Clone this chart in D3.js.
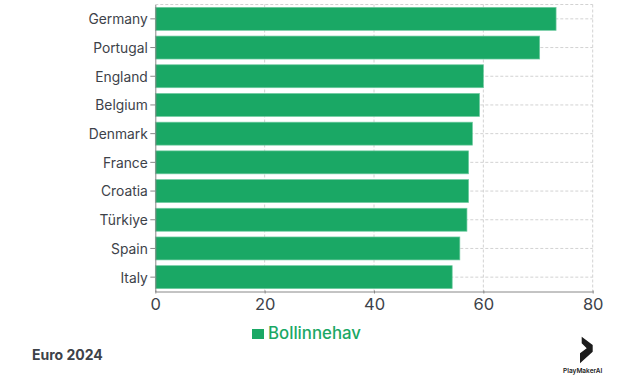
<!DOCTYPE html>
<html><head><meta charset="utf-8">
<script src="https://cdn.jsdelivr.net/npm/d3@7"></script>
<style>html,body{margin:0;padding:0;background:#fff}svg{display:block}text{font-family:Inter,Lato,sans-serif}</style>
</head><body><svg id="c" width="620" height="379"></svg>
<script>
const categories=["Germany","Portugal","England","Belgium","Denmark","France","Croatia","Türkiye","Spain","Italy"];
const values=[73.3,70.3,60,59.3,58,57.3,57.3,57,55.7,54.3];
const xTicks=[0,20,40,60,80];
const seriesName="Bollinnehav";
const footer="Euro 2024";
const brand="PlayMakerAI";
const green="#1aa865", ink="#3d4249";

const svg=d3.select("#c");
const x=d3.scaleLinear().domain([0,80]).range([155.3,592.7]);
const y=d3.scaleBand().domain(categories).range([4.5,291.5]).paddingInner(0.2).paddingOuter(0.1);
const cy=d=>y(d)+y.bandwidth()/2;
const grid="#d2d2d2";
const g=svg.append("g");
g.selectAll("line.v").data(xTicks.slice(1)).join("line").attr("class","v")
 .attr("x1",d=>x(d)).attr("x2",d=>x(d)).attr("y1",4.5).attr("y2",291.5)
 .attr("stroke",grid).attr("stroke-dasharray","3 2");
g.selectAll("line.h").data(categories).join("line").attr("class","h")
 .attr("x1",x(0)).attr("x2",x(80)).attr("y1",cy).attr("y2",cy)
 .attr("stroke",grid).attr("stroke-dasharray","3 2");
g.append("line").attr("x1",x(0)).attr("x2",x(80)).attr("y1",4.5).attr("y2",4.5)
 .attr("stroke",grid).attr("stroke-dasharray","3 2");
g.selectAll("rect").data(categories).join("rect")
 .attr("x",x(0)).attr("y",d=>y(d)).attr("height",y.bandwidth())
 .attr("width",(d,i)=>x(values[i])-x(0))
 .attr("fill",green).attr("stroke","#6fcba0").attr("stroke-width",0.7);

const ax=svg.append("g").attr("transform","translate(0,291.5)")
 .call(d3.axisBottom(x).tickValues(xTicks).tickSize(5).tickSizeOuter(0));
ax.select(".domain").attr("stroke","#888").attr("stroke-width",1);
ax.selectAll("line").attr("stroke","#888").attr("y1",-1).attr("y2",2);
ax.selectAll("text").attr("fill",ink).attr("font-size",16.5).attr("y",7).attr("font-family","Inter,Lato,sans-serif");
const ay=svg.append("g").attr("transform","translate(155.3,0)")
 .call(d3.axisLeft(y).tickSize(5).tickSizeOuter(0));
ay.select(".domain").attr("stroke","#888").attr("stroke-width",1);
ay.selectAll("line").attr("stroke","#888");
ay.selectAll("text").attr("fill",ink).attr("font-size",13.8).attr("x",-7.5).attr("y",1).attr("font-family","Inter,Lato,sans-serif");

svg.append("rect").attr("x",252).attr("y",329).attr("width",12).attr("height",10).attr("fill",green);
svg.append("text").attr("x",268).attr("y",338.5).attr("fill",green).attr("font-size",16.8).attr("font-weight",500).text(seriesName);
svg.append("text").attr("x",32).attr("y",360).attr("fill",ink).attr("font-size",14).attr("font-weight",700).text(footer);
svg.append("path").attr("d","M581.7 336.7 L592.7 345 L592.7 351.7 L580 363.3 L580 353.3 L586.7 348.3 L581.7 343.3 Z").attr("fill","#1c1c1c");
svg.append("text").attr("x",582.7).attr("y",372.7).attr("text-anchor","middle").attr("fill","#222").attr("font-size",6.5).attr("font-weight",600).text(brand);
</script></body></html>
